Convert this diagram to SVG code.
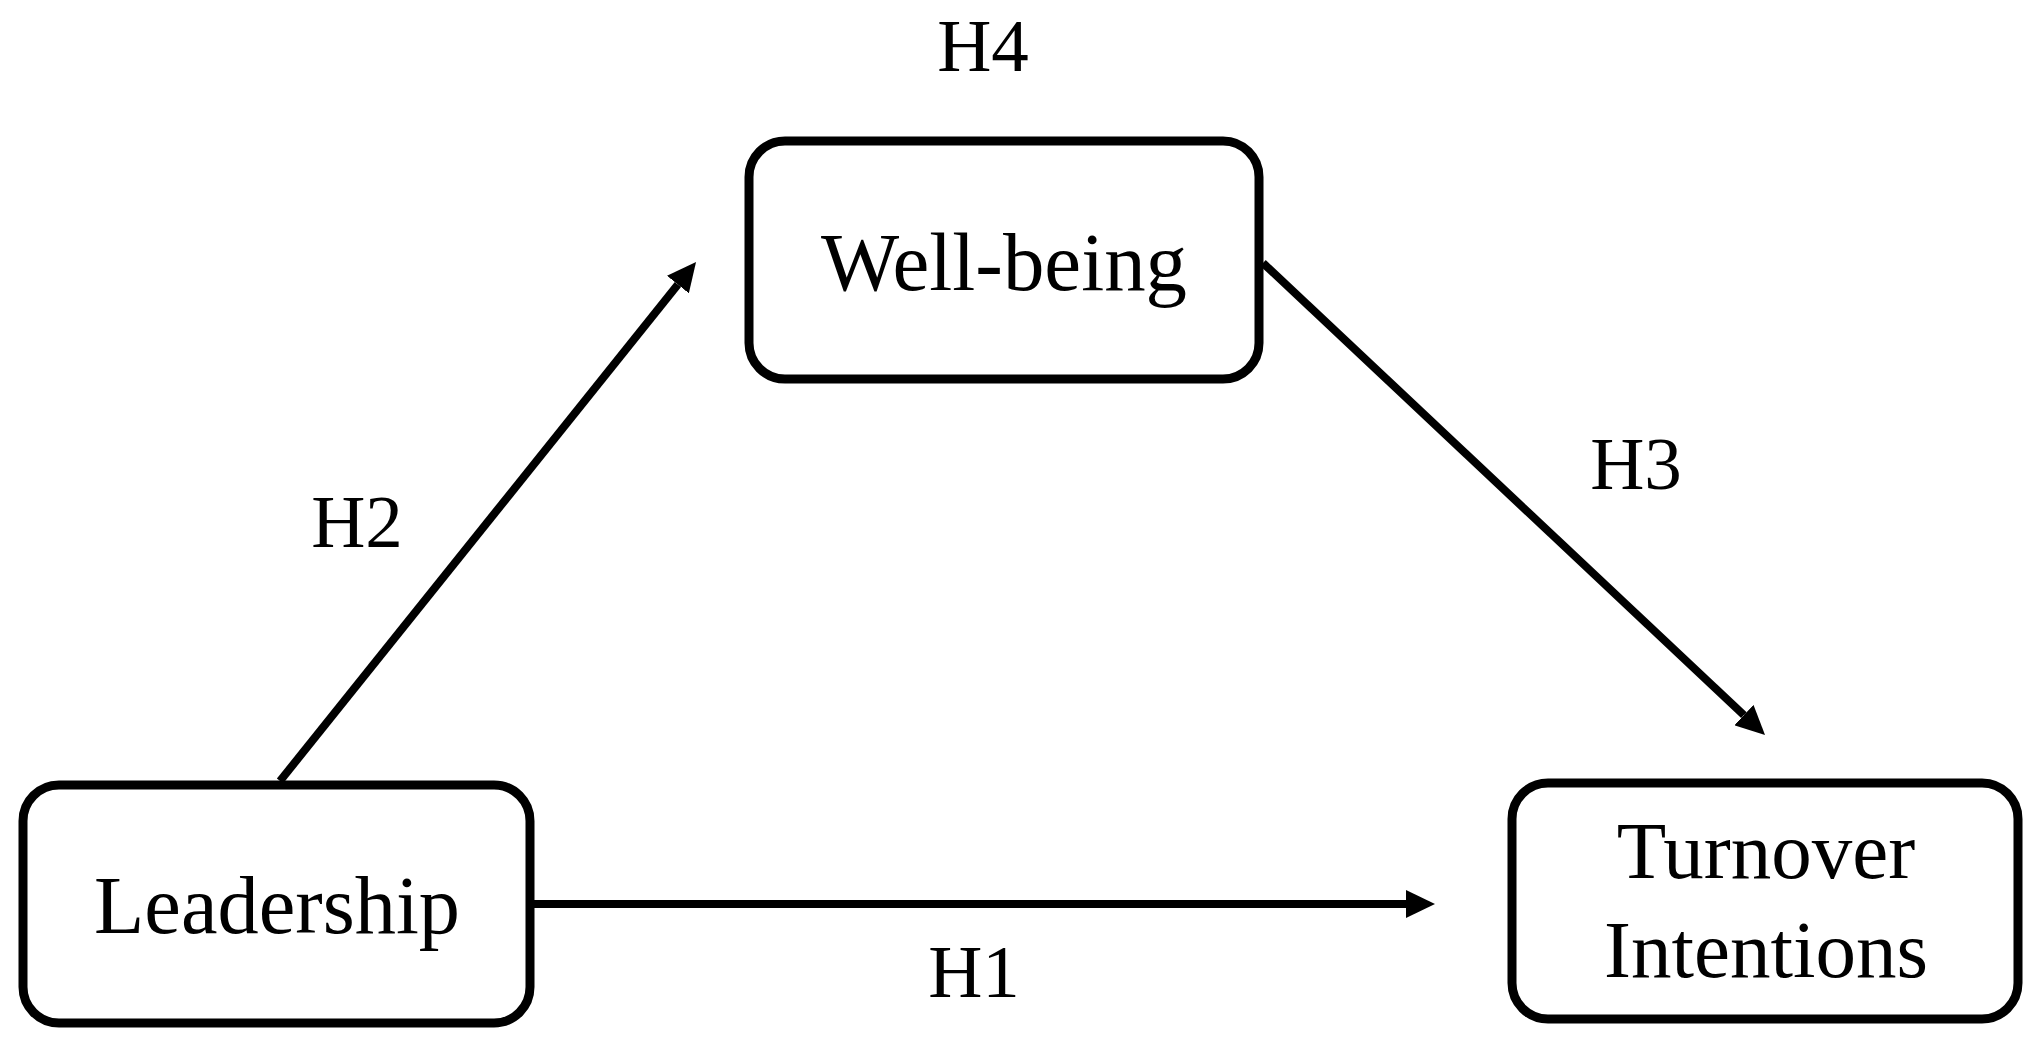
<svg xmlns="http://www.w3.org/2000/svg" width="2043" height="1040" viewBox="0 0 2043 1040">
  <style>
    .box { fill: #ffffff; stroke: #000000; stroke-width: 9; }
    .node-text { font-family: "Liberation Serif", "Times New Roman", serif; font-size: 83px; fill: #000000; text-anchor: middle; }
    .label { font-family: "Liberation Serif", "Times New Roman", serif; font-size: 75px; fill: #000000; text-anchor: middle; }
    .edge { stroke: #000000; stroke-width: 8; fill: none; }
  </style>
  <defs>
    <marker id="arrow" markerUnits="userSpaceOnUse" markerWidth="29" markerHeight="28" viewBox="0 0 29 28" refX="0" refY="14" orient="auto">
      <path d="M0,0 L29,14 L0,28 z" fill="#000000"/>
    </marker>
  </defs>
  <rect width="2043" height="1040" fill="#ffffff"/>

  <g id="connectors">
    <line id="edge-h2" class="edge" x1="280" y1="781" x2="677.9" y2="284.6" marker-end="url(#arrow)"/>
    <line id="edge-h3" class="edge" x1="1263" y1="263" x2="1743.9" y2="715.1" marker-end="url(#arrow)"/>
    <line id="edge-h1" class="edge" x1="534" y1="904" x2="1406" y2="904" marker-end="url(#arrow)"/>
  </g>

  <g id="node-leadership">
    <rect class="box" x="23" y="785" width="507" height="238" rx="36" ry="36"/>
    <text class="node-text" x="277" y="933" textLength="366" lengthAdjust="spacingAndGlyphs">Leadership</text>
  </g>

  <g id="node-wellbeing">
    <rect class="box" x="749" y="141" width="510" height="238" rx="36" ry="36"/>
    <text class="node-text" x="1004" y="290" textLength="366" lengthAdjust="spacingAndGlyphs">Well-being</text>
  </g>

  <g id="node-turnover">
    <rect class="box" x="1512" y="783" width="506" height="236" rx="36" ry="36"/>
    <text class="node-text" x="1766" y="878" style="font-size:81px">Turnover</text>
    <text class="node-text" x="1766" y="977" style="font-size:81px">Intentions</text>
  </g>

  <g id="labels">
    <text class="label" x="983" y="71">H4</text>
    <text class="label" x="357" y="547">H2</text>
    <text class="label" x="1636" y="489">H3</text>
    <text class="label" x="974" y="997">H1</text>
  </g>
</svg>
